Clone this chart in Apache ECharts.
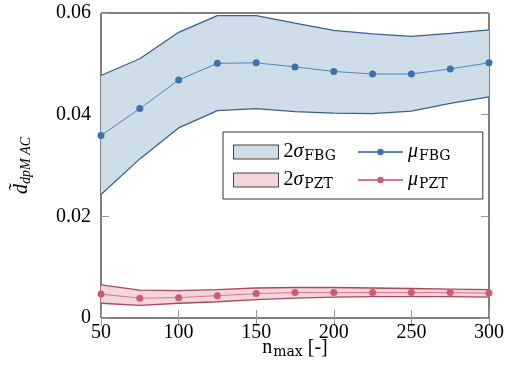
<!DOCTYPE html>
<html>
<head>
<meta charset="utf-8">
<script src="https://cdn.jsdelivr.net/npm/echarts@6/dist/echarts.min.js"></script>
<style>
  html, body { margin: 0; padding: 0; background: #fff; }
  #chart { width: 509px; height: 385px; }
</style>
</head>
<body>
<div id="chart"></div>
<script>
// n_max values (one category per sample, labels on every other one)
const nMax = ["50", "75", "100", "125", "150", "175", "200", "225", "250", "275", "300"];
const yTicks = [0, 0.02, 0.04, 0.06];

// FBG: mean and 2-sigma band
const fbgMean  = [0.0359, 0.0412, 0.0468, 0.0501, 0.0502, 0.0494, 0.0485, 0.0480, 0.0480, 0.0490, 0.0502];
const fbgUpper = [0.0477, 0.0510, 0.0562, 0.0595, 0.0595, 0.0580, 0.0566, 0.0559, 0.0554, 0.0560, 0.0567];
const fbgLower = [0.0243, 0.0313, 0.0374, 0.0408, 0.0412, 0.0406, 0.0403, 0.0402, 0.0407, 0.0422, 0.0435];

// PZT: mean and 2-sigma band
const pztMean  = [0.0047, 0.0039, 0.0040, 0.0044, 0.0048, 0.0050, 0.0050, 0.0050, 0.0050, 0.0050, 0.0049];
const pztUpper = [0.0065, 0.0055, 0.0054, 0.0056, 0.0059, 0.0060, 0.0060, 0.0059, 0.0058, 0.0057, 0.0056];
const pztLower = [0.0029, 0.0025, 0.0029, 0.0032, 0.0036, 0.0039, 0.0041, 0.0042, 0.0042, 0.0042, 0.0041];

const SERIF = "'Liberation Serif', 'DejaVu Serif', serif";
const SUBSERIF = "'DejaVu Serif', 'Liberation Serif', serif";

const blue = { fill: "#cfdde9", edge: "#37628f", line: "#5585bb", dot: "#3f72ad" };
const red = { fill: "#f2d6dc", edge: "#a94860", line: "#d8758b", dot: "#cc5a74" };

const diff = (hi, lo) => hi.map((v, i) => +(v - lo[i]).toFixed(5));

function bandSeries(key, name, lo, hi, c) {
  return [
    {
      name: "low" + key,
      type: "line",
      stack: key,
      data: lo,
      symbol: "none",
      lineStyle: { color: c.edge, width: 1.3 },
      itemStyle: { color: c.edge },
      z: 1,
    },
    {
      name: name,
      type: "line",
      stack: key,
      data: diff(hi, lo),
      symbol: "none",
      lineStyle: { color: c.edge, width: 1.3 },
      itemStyle: { color: c.fill },
      areaStyle: { color: c.fill, opacity: 1 },
      z: 1,
    },
  ];
}

function meanSeries(name, ys, c) {
  return {
    name: name,
    type: "line",
    data: ys,
    symbol: "circle",
    symbolSize: 7,
    lineStyle: { color: c.line, width: 1 },
    itemStyle: { color: c.dot },
    z: 3,
  };
}

const rich = {
  n: { fontFamily: SERIF, fontSize: 20, color: "#000", lineHeight: 22 },
  it: { fontFamily: SERIF, fontSize: 20, fontStyle: "italic", color: "#000", lineHeight: 22 },
  sub: { fontFamily: SUBSERIF, fontSize: 14, color: "#000", lineHeight: 22, padding: [8, 0, 0, 1] },
  subit: { fontFamily: SERIF, fontSize: 14, fontStyle: "italic", color: "#000", lineHeight: 22, padding: [8, 0, 0, 0] },
};

const legendFormatter = (name) => {
  const [sym, sub] = name.split(" ");
  if (sym === "2σ") return "{n|2}{it|σ}{sub|" + sub + "}";
  return "{it|μ}{sub|" + sub + "}";
};

const chart = echarts.init(document.getElementById("chart"), null, { renderer: "canvas" });

const innerTick = { show: true, inside: true, length: 8, interval: 1, lineStyle: { color: "#999" } };

chart.setOption({
  animation: false,
  grid: {
    left: 101,
    right: 20,
    top: 13,
    bottom: 67,
    show: true,
    borderColor: "#000",
    borderWidth: 1,
  },
  legend: [
    {
      // band entries; its padding also spans the box around both columns
      orient: "vertical",
      left: 223,
      top: 132,
      itemWidth: 45,
      itemHeight: 14,
      itemGap: 6,
      padding: [9, 147, 8, 10],
      borderColor: "#333",
      borderWidth: 1,
      backgroundColor: "#fff",
      data: [
        { name: "2σ FBG", icon: "rect", itemStyle: { color: blue.fill, borderColor: "#444", borderWidth: 1 } },
        { name: "2σ PZT", icon: "rect", itemStyle: { color: red.fill, borderColor: "#444", borderWidth: 1 } },
      ],
      formatter: legendFormatter,
      textStyle: { rich: rich },
      z: 10,
    },
    {
      orient: "vertical",
      left: 357,
      top: 132,
      itemWidth: 45,
      itemHeight: 8,
      itemGap: 6,
      padding: [9, 0, 8, 0],
      data: ["μ FBG", "μ PZT"],
      formatter: legendFormatter,
      textStyle: { rich: rich },
      z: 11,
    },
  ],
  xAxis: [
    {
      type: "category",
      data: nMax,
      boundaryGap: false,
      name: "{n|n}{sub|max}{n| [-]}",
      nameLocation: "middle",
      nameGap: 19,
      nameMoveOverlap: false,
      nameTextStyle: { rich: rich },
      axisLine: { show: false },
      axisTick: innerTick,
      axisLabel: { interval: 1, margin: 5, fontFamily: SERIF, fontSize: 20, color: "#000" },
      splitLine: { show: false },
    },
    {
      type: "category",
      data: nMax,
      boundaryGap: false,
      position: "top",
      axisLine: { show: false },
      axisTick: innerTick,
      axisLabel: { show: false },
      splitLine: { show: false },
    },
  ],
  yAxis: [
    {
      type: "value",
      min: 0,
      max: 0.06,
      interval: 0.02,
      name: "{it|d\u0303}{subit|dpM AC}",
      nameLocation: "middle",
      nameRotate: 90,
      nameGap: 68,
      nameMoveOverlap: false,
      nameTextStyle: { rich: rich },
      axisLine: { show: false },
      axisTick: innerTick,
      axisLabel: {
        margin: 10,
        fontFamily: SERIF,
        fontSize: 20,
        color: "#000",
        formatter: (v) => {
          const t = yTicks.find((y) => Math.abs(y - v) < 1e-9);
          return t === undefined ? "" : t === 0 ? "0" : t.toFixed(2);
        },
      },
      splitLine: { show: false },
    },
    {
      type: "value",
      position: "right",
      min: 0,
      max: 0.06,
      interval: 0.02,
      axisLine: { show: false },
      axisTick: innerTick,
      axisLabel: { show: false },
      splitLine: { show: false },
    },
  ],
  series: [
    ...bandSeries("fbg", "2σ FBG", fbgLower, fbgUpper, blue),
    ...bandSeries("pzt", "2σ PZT", pztLower, pztUpper, red),
    meanSeries("μ FBG", fbgMean, blue),
    meanSeries("μ PZT", pztMean, red),
  ],
});
</script>
</body>
</html>
